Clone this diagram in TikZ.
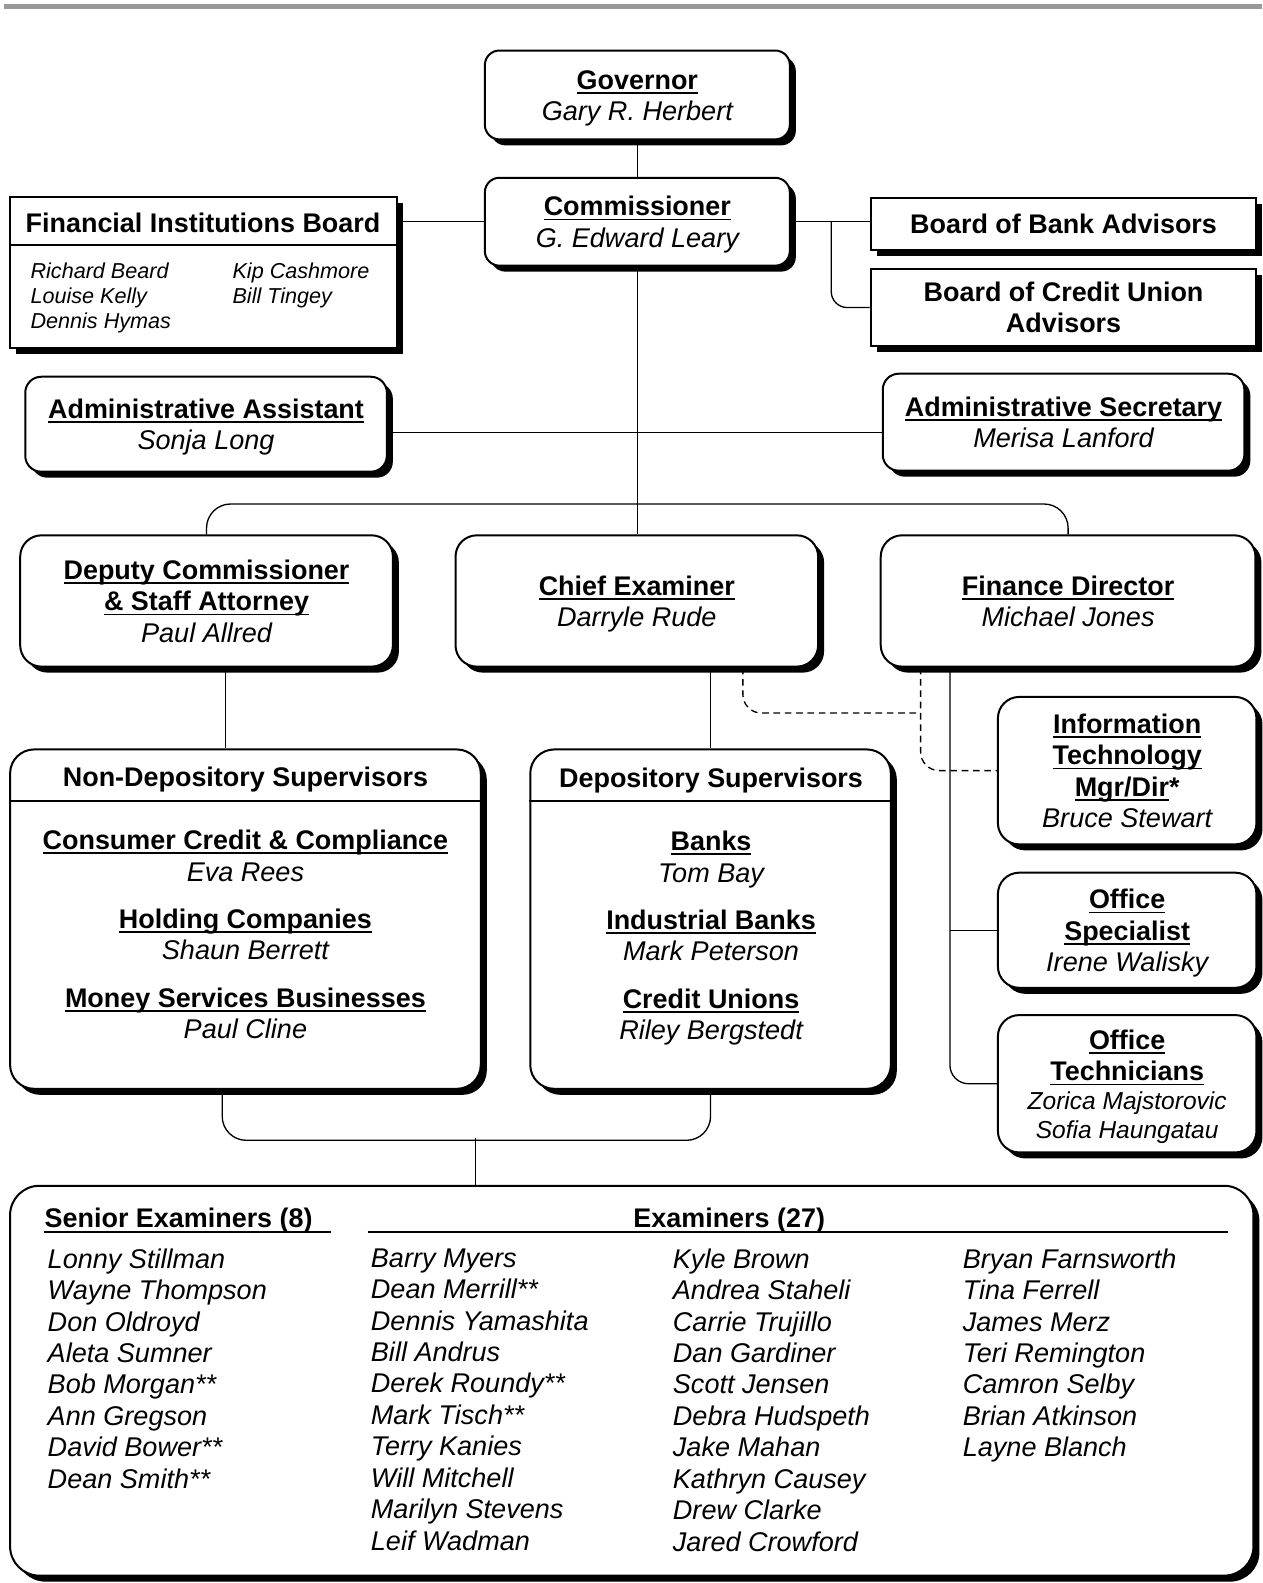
\documentclass[tikz,border=0pt]{standalone}
\usepackage{fontspec}
\setmainfont{Liberation Sans}
\usetikzlibrary{calc}

\newcommand{\bt}[1]{{\fontsize{20.2}{23.6}\selectfont\bfseries #1}}
\newcommand{\ttl}[1]{\bt{\rule{0pt}{19.1pt}\setbox0\hbox{#1}\rlap{\rule[-3.4pt]{\wd0}{1.3pt}}\box0}}
\newcommand{\who}[1]{{\fontsize{20.3}{23.6}\selectfont\itshape\vphantom{y}#1}}
\newcommand{\whosm}[1]{{\fontsize{18.4}{23.6}\selectfont\itshape\vphantom{y}#1}}

\tikzset{
  orgbox/.style={draw, line width=1.5pt, fill=white, rounded corners=14pt,
    inner sep=0pt, align=center,
    preaction={fill=black, transform canvas={xshift=4.5pt, yshift=-4.5pt}}},
  sqbox/.style={orgbox, sharp corners},
  boxsize/.style 2 args={minimum width=#1*0.7575pt, minimum height=#2*0.7575pt},
  link/.style={line width=1pt},
  dashlink/.style={line width=1pt, dash pattern=on 5pt off 3.5pt},
  namecol/.style={anchor=north west, align=left, inner sep=0pt,
    font=\fontsize{20.3}{23.56}\selectfont\itshape},
  fibcol/.style={anchor=north west, align=left, inner sep=0pt,
    font=\fontsize{16.2}{18.9}\selectfont\itshape},
}

\begin{document}
\begin{tikzpicture}[x=0.7575pt,y=0.7575pt,yscale=-1,xscale=1,
  every node/.append style={font=\fontsize{19.5}{23.56}\selectfont}]
\useasboundingbox (0,0) rectangle (1249.5,1567.3);

%Shape: Rectangle (top rule)
\fill[gray!80] (4,4) rectangle (1249.5,9);

%Shape: Governor
\node[orgbox, rounded corners=11pt, boxsize={302}{88}] (gov) at (631,94)
  {\ttl{Governor}\\ \who{Gary R. Herbert}};
%Shape: Commissioner
\node[orgbox, rounded corners=11pt, boxsize={302}{87}] (comm) at (631,219.5)
  {\ttl{Commissioner}\\ \who{G. Edward Leary}};
%Shape: Rectangle (board)
\node[sqbox, boxsize={383}{150}] (fib) at (201.5,270) {};
\draw[line width=1.5pt] (fib.west |- 0,243) -- (fib.east |- 0,243);
% Text Node
\node (fibhead) at (201,221) {\bt{Financial Institutions Board}};
% Text Node
\node[fibcol] (fibleft) at (30,260) {Richard Beard\\ Louise Kelly\\ Dennis Hymas};
% Text Node
\node[fibcol] (fibright) at (230,260) {Kip Cashmore\\ Bill Tingey};
%Shape: Rectangle (advisors)
\node[sqbox, boxsize={382}{52}] (bba) at (1053,222) {\bt{Board of Bank Advisors}};
%Shape: Rectangle (advisors)
\node[sqbox, boxsize={382}{77}] (bcua) at (1053,304.5)
  {\bt{Board of Credit Union}\\ \bt{Advisors}};

%Shape: Admin Assistant
\node[orgbox, rounded corners=12pt, boxsize={358}{94}] (aa) at (204,420)
  {\ttl{Administrative Assistant}\\ \who{Sonja Long}};
%Shape: Admin Secretary
\node[orgbox, rounded corners=12pt, boxsize={358}{96}] (as) at (1053,418)
  {\ttl{Administrative Secretary}\\ \who{Merisa Lanford}};

%Shape: Deputy
\node[orgbox, rounded corners=16pt, boxsize={369}{130}] (dep) at (204.5,595)
  {\ttl{Deputy Commissioner}\\ \ttl{\& Staff Attorney}\\ \who{Paul Allred}};
%Shape: Chief Examiner
\node[orgbox, rounded corners=16pt, boxsize={359}{130}] (chief) at (630.5,595)
  {\ttl{Chief Examiner}\\ \who{Darryle Rude}};
%Shape: Finance Director
\node[orgbox, rounded corners=16pt, boxsize={371}{130}] (fin) at (1057.5,595)
  {\ttl{Finance Director}\\ \who{Michael Jones}};

%Shape: Non-Depository
\node[orgbox, rounded corners=18pt, boxsize={466}{336}] (nondep) at (243,910) {};
\draw[line width=1.5pt] (nondep.west |- 0,793) -- (nondep.east |- 0,793);
% Text Node
\node (ndhead) at (243,772) {\bt{Non-Depository Supervisors}};
% Text Node
\node[align=center] (ndlist) at (243,925)
  {\ttl{Consumer Credit \& Compliance}\\ \who{Eva Rees}\\[12pt]
   \ttl{Holding Companies}\\ \who{Shaun Berrett}\\[12pt]
   \ttl{Money Services Businesses}\\ \who{Paul Cline}};
%Shape: Depository
\node[orgbox, rounded corners=18pt, boxsize={357}{336}] (depos) at (703.5,910) {};
\draw[line width=1.5pt] (depos.west |- 0,793) -- (depos.east |- 0,793);
% Text Node
\node (dshead) at (704,773) {\bt{Depository Supervisors}};
% Text Node
\node[align=center] (dslist) at (704,926)
  {\ttl{Banks}\\ \who{Tom Bay}\\[12pt]
   \ttl{Industrial Banks}\\ \who{Mark Peterson}\\[12pt]
   \ttl{Credit Unions}\\ \who{Riley Bergstedt}};

%Shape: IT
\node[orgbox, rounded corners=16pt, boxsize={256}{146}] (it) at (1116,763)
  {\ttl{Information}\\ \ttl{Technology}\\ \ttl{Mgr/Dir}\bt{*}\\ \who{Bruce Stewart}};
%Shape: Office Specialist
\node[orgbox, rounded corners=16pt, boxsize={256}{114}] (ospec) at (1116,921)
  {\ttl{Office}\\ \ttl{Specialist}\\ \who{Irene Walisky}};
%Shape: Office Technicians
\node[orgbox, rounded corners=16pt, boxsize={256}{136}] (otech) at (1116,1073)
  {\ttl{Office}\\ \ttl{Technicians}\\[-2pt] \whosm{Zorica Majstorovic}\\[-2pt] \whosm{Sofia Haungatau}};

%Shape: Examiners
\node[orgbox, rounded corners=22pt, boxsize={1231}{386}] (exam) at (625.5,1367) {};
% Text Node
\node[anchor=west, inner sep=0pt] (senhead) at (44,1208) {\bt{Senior Examiners (8)}};
\draw[line width=1.3pt] (senhead.west |- 0,1219.5) -- (328,1219.5);
% Text Node
\node (exhead) at (722,1208) {\bt{Examiners (27)}};
\draw[line width=1.3pt] (364,1219.5) -- (1216,1219.5);
% Text Node
\node[namecol] (colA) at (47,1236) {Lonny Stillman\\ Wayne Thompson\\ Don Oldroyd\\
  Aleta Sumner\\ Bob Morgan**\\ Ann Gregson\\ David Bower**\\ Dean Smith**};
% Text Node
\node[namecol] (colB) at (367,1236) {Barry Myers\\ Dean Merrill**\\ Dennis Yamashita\\
  Bill Andrus\\ Derek Roundy**\\ Mark Tisch**\\ Terry Kanies\\ Will Mitchell\\
  Marilyn Stevens\\ Leif Wadman};
% Text Node
\node[namecol] (colC) at (666,1236) {Kyle Brown\\ Andrea Staheli\\ Carrie Trujillo\\
  Dan Gardiner\\ Scott Jensen\\ Debra Hudspeth\\ Jake Mahan\\ Kathryn Causey\\
  Drew Clarke\\ Jared Crowford};
% Text Node
\node[namecol] (colD) at (953,1236) {Bryan Farnsworth\\ Tina Ferrell\\ James Merz\\
  Teri Remington\\ Camron Selby\\ Brian Atkinson\\ Layne Blanch};

%Straight Lines
\draw[link] (gov) -- (comm);
\draw[link] (comm.west) -- (comm.west -| fib.east);
\draw[link] (comm.east) -- (comm.east -| bba.west);
\coordinate (advtap) at ($(comm.east)+(40,0)$);
\draw[link, rounded corners=12pt] (advtap) |- (bcua.west);
\draw[link] (comm.south) -- (comm.south |- chief.north);
\draw[link] (aa.east |- 0,428) -- (as.west |- 0,428);
\draw[link, rounded corners=18pt] (dep.north) -- (dep.north |- 0,499)
  -- (fin.north |- 0,499) -- (fin.north);
\coordinate (deptap) at ($(dep.south)+(19,0)$);
\draw[link] (deptap) -- (deptap |- nondep.north);
\draw[link] (chief.south -| depos.north) -- (depos.north);
%Dashed Lines
\coordinate (chieftap) at ($(chief.south)+(105,0)$);
\coordinate (findash) at ($(fin.south)+(-146,0)$);
\draw[dashlink, rounded corners=14pt] (chieftap) |- ($(findash)+(0,45)$);
\draw[dashlink, rounded corners=14pt] (findash) |- (it.west);
%Straight Lines
\coordinate (fintap) at ($(fin.south)+(-117,0)$);
\draw[link, rounded corners=14pt] (fintap) |- (otech.west);
\draw[link] (ospec.west) -- (ospec.west -| fintap);
\coordinate (suptap) at ($(nondep.south)+(-23,0)$);
\draw[link, rounded corners=18pt] (suptap) |- ($(depos.south)+(0,50)$) -- (depos.south);
\coordinate (examtap) at ($(exam.north)+(-154.5,0)$);
\draw[link] (examtap) -- ($(examtap)+(0,-46)$);

\end{tikzpicture}
\end{document}
